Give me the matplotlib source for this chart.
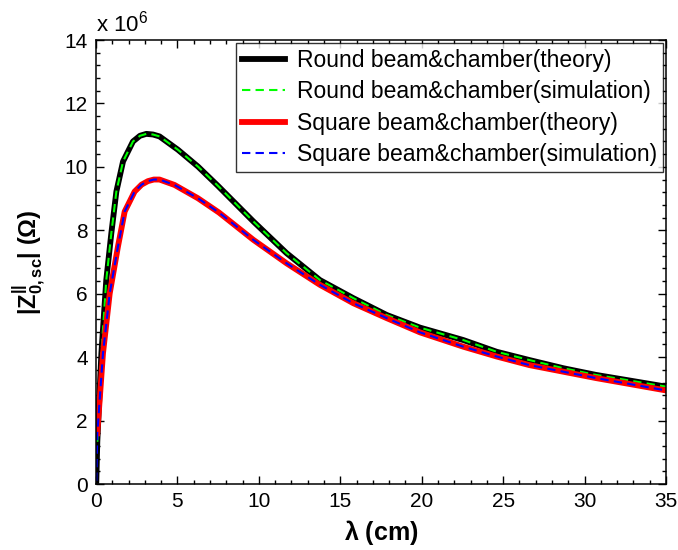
import numpy as np
import matplotlib
matplotlib.use("Agg")
import matplotlib.pyplot as plt
from matplotlib.ticker import MultipleLocator, FuncFormatter

plt.rcParams['font.family'] = ['Liberation Sans', 'DejaVu Sans']
plt.rcParams['mathtext.fontset'] = 'custom'
plt.rcParams['mathtext.rm'] = 'Liberation Sans'
plt.rcParams['mathtext.it'] = 'Liberation Sans:italic'
plt.rcParams['mathtext.bf'] = 'Liberation Sans:bold'

# wavelength (cm) and |Z| in units of 1e6 Ohm
lam_round = [0.02, 0.08, 0.33, 0.63, 0.94, 1.25, 1.66, 2.27, 2.7, 3.09, 3.5, 3.9, 5.03, 6.26, 7.49,
             9.66, 11.7, 13.75, 15.8, 17.85, 19.9, 22.55, 24.6, 26.6, 28.7, 30.7, 32.8, 35.0]
z_round = [0.1, 1.33, 4.12, 6.43, 7.9, 9.22, 10.17, 10.8, 10.98, 11.04, 11.02, 10.96, 10.54, 10.01, 9.4,
           8.28, 7.28, 6.43, 5.86, 5.33, 4.93, 4.54, 4.17, 3.91, 3.65, 3.44, 3.26, 3.07]

lam_square = [0.02, 0.08, 0.43, 0.84, 1.35, 1.76, 2.37, 2.8, 3.19, 3.55, 3.9, 4.82, 6.26, 7.55,
              9.66, 11.7, 13.75, 15.8, 17.85, 19.9, 22.55, 24.6, 26.6, 28.7, 30.7, 32.8, 35.0]
z_square = [0.1, 1.6, 4.12, 6.0, 7.49, 8.59, 9.22, 9.44, 9.55, 9.6, 9.6, 9.43, 9.01, 8.56,
            7.7, 6.96, 6.28, 5.7, 5.23, 4.78, 4.33, 4.02, 3.75, 3.54, 3.34, 3.15, 2.95]

labels = ['Round beam&chamber(theory)', 'Round beam&chamber(simulation)',
          'Square beam&chamber(theory)', 'Square beam&chamber(simulation)']

lr = np.array(lam_round)
zr = np.array(z_round) * 1e6
ls = np.array(lam_square)
zs = np.array(z_square) * 1e6

fig = plt.figure(figsize=(6.78, 5.5), dpi=100)
ax = fig.add_axes([96/678, 66/550, 570/678, 444/550])

# theory of round starts at 0, simulation at second point; the square the other way round
ax.plot(lr, zr, color='black', lw=4.2, label=labels[0])
ax.plot(lr[1:], zr[1:], color='#00ff00', lw=1.5, ls=(0, (4, 2.5)), label=labels[1])
ax.plot(ls[1:], zs[1:], color='red', lw=4.2, label=labels[2])
ax.plot(ls, zs, color='blue', lw=1.5, ls=(0, (4, 2.5)), label=labels[3])

ax.set_xlim(0, 35)
ax.set_ylim(0, 14e6)
ax.xaxis.set_major_locator(MultipleLocator(5))
ax.xaxis.set_minor_locator(MultipleLocator(1))
ax.yaxis.set_major_locator(MultipleLocator(2e6))
ax.yaxis.set_minor_locator(MultipleLocator(0.4e6))
ax.yaxis.set_major_formatter(FuncFormatter(lambda v, p: '%d' % round(v / 1e6)))
ax.tick_params(which='both', direction='in', top=True, right=True, labelsize=15, width=1)
ax.tick_params(which='major', length=6, pad=6)
ax.tick_params(which='minor', length=3)
for s in ax.spines.values():
    s.set_linewidth(1.1)

ax.text(0, 1.008, r'x 10$^{6}$', transform=ax.transAxes, fontsize=16, ha='left', va='bottom')

ax.set_xlabel(r'$\mathbf{\lambda}$ (cm)', fontsize=18, fontweight='bold', labelpad=5)
ax.set_ylabel(r'$\mathbf{|Z^{||}_{0,sc}|}$ ($\mathbf{\Omega}$)', fontsize=17, fontweight='bold', labelpad=12)

leg = ax.legend(loc='upper right', fontsize=16.5, frameon=True, fancybox=False,
                borderaxespad=0.15, handlelength=1.9, handletextpad=0.5,
                labelspacing=0.36, borderpad=0.25)
leg.get_frame().set_edgecolor('black')
leg.get_frame().set_linewidth(1.0)

fig.savefig('out.png', dpi=100)
